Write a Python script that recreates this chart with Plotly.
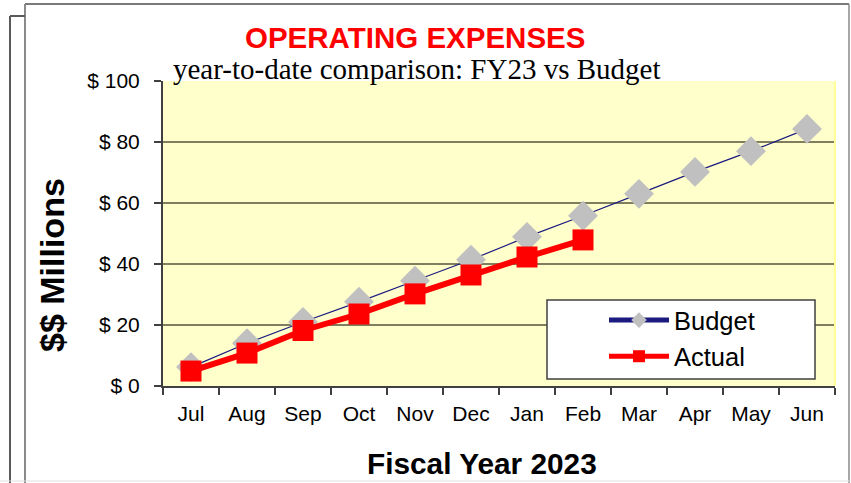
import plotly.graph_objects as go

months = ["Jul", "Aug", "Sep", "Oct", "Nov", "Dec", "Jan", "Feb", "Mar", "Apr", "May", "Jun"]
budget = [6.2, 14.0, 21.0, 27.6, 34.5, 41.4, 48.9, 55.8, 63.0, 70.2, 77.0, 84.3]
actual = [4.9, 10.8, 18.2, 23.6, 30.2, 36.4, 42.3, 47.9]
y_ticks = [0, 20, 40, 60, 80, 100]
y_tick_labels = ["$ 0", "$ 20", "$ 40", "$ 60", "$ 80", "$ 100"]

W, H = 851, 483
L, R, T, B = 163, 835, 81, 386


def px(x):
    return (x - L) / (R - L)


def py(y):
    return (B - y) / (B - T)


SANS = "Liberation Sans, Arial, sans-serif"
SERIF = "Liberation Serif, Times New Roman, serif"

fig = go.Figure()
fig.add_trace(go.Scatter(
    x=months, y=budget, name="Budget", mode="lines+markers",
    line=dict(color="#1a1a80", width=1.2),
    marker=dict(symbol="diamond", size=23, color="#c0c0c0"),
))
fig.add_trace(go.Scatter(
    x=months[:len(actual)], y=actual, name="Actual", mode="lines+markers",
    line=dict(color="#ff0000", width=6),
    marker=dict(symbol="square", size=21, color="#ff0000"),
))

shapes = []
frame_col = "#7a7a7a"
shapes.append(dict(type="line", xref="paper", yref="paper", x0=px(25), y0=py(4), x1=px(849), y1=py(4),
                   line=dict(color=frame_col, width=2)))
shapes.append(dict(type="line", xref="paper", yref="paper", x0=px(25), y0=py(4), x1=px(25), y1=py(483),
                   line=dict(color="#8a8a8a", width=2)))
shapes.append(dict(type="line", xref="paper", yref="paper", x0=px(849), y0=py(4), x1=px(849), y1=py(483),
                   line=dict(color="#8a8a8a", width=1.5)))
shapes.append(dict(type="line", xref="paper", yref="paper", x0=px(10), y0=py(16), x1=px(10), y1=py(483),
                   line=dict(color="#5a5a5a", width=2)))
shapes.append(dict(type="line", xref="paper", yref="paper", x0=px(10), y0=py(16), x1=px(25), y1=py(16),
                   line=dict(color="#5a5a5a", width=2)))
shapes.append(dict(type="line", xref="paper", yref="paper", x0=px(0), y0=py(481), x1=px(851), y1=py(481),
                   line=dict(color="#e0e0e0", width=1)))
shapes.append(dict(type="line", xref="paper", yref="paper", x0=1, y0=0, x1=1, y1=1,
                   line=dict(color="#ffff99", width=2)))
shapes.append(dict(type="rect", xref="paper", yref="paper", x0=px(547), y0=py(300), x1=px(815), y1=py(379),
                   fillcolor="white", line=dict(color="#404040", width=1.5), layer="above"))

annotations = [
    dict(text="<b>OPERATING EXPENSES</b>", xref="paper", yref="paper", x=px(415), y=py(37),
         xanchor="center", yanchor="middle", showarrow=False,
         font=dict(family=SANS, size=29.5, color="#ff0000")),
    dict(text="year-to-date comparison: FY23 vs Budget", xref="paper", yref="paper", x=px(171), y=py(69),
         xanchor="left", yanchor="middle", showarrow=False,
         font=dict(family=SERIF, size=29, color="#000000")),
    dict(text="<b>Fiscal Year 2023</b>", xref="paper", yref="paper", x=px(482), y=py(463),
         xanchor="center", yanchor="middle", showarrow=False,
         font=dict(family=SANS, size=29.8, color="#000000")),
    dict(text="<b>$$ Millions</b>", xref="paper", yref="paper", x=px(52), y=py(265),
         xanchor="center", yanchor="middle", showarrow=False, textangle=-90,
         font=dict(family=SANS, size=34, color="#000000")),
]

fig.update_layout(
    width=W, height=H,
    margin=dict(l=L, r=W - R, t=T, b=H - B),
    paper_bgcolor="white",
    plot_bgcolor="#ffffcc",
    shapes=shapes,
    annotations=annotations,
    showlegend=True,
    legend=dict(x=px(604), y=py(297), xanchor="left", yanchor="top",
                bgcolor="rgba(0,0,0,0)", borderwidth=0, itemsizing="constant", itemwidth=60,
                font=dict(family=SANS, size=25.5, color="#000000"), tracegroupgap=0),
    xaxis=dict(
        type="category", range=[-0.5, 11.5], tickson="boundaries",
        ticks="outside", ticklen=7, tickwidth=2, tickcolor="#404040",
        showline=True, linecolor="#404040", linewidth=2,
        showgrid=False, zeroline=False,
        tickfont=dict(family=SANS, size=21, color="#000000"),
        ticklabelstandoff=8,
    ),
    yaxis=dict(
        range=[0, 100], tickmode="array", tickvals=y_ticks, ticktext=y_tick_labels,
        ticks="outside", ticklen=7, tickwidth=2, tickcolor="#404040",
        showline=True, linecolor="#404040", linewidth=2,
        showgrid=True, gridcolor="#7f7f60", gridwidth=2, zeroline=False,
        tickfont=dict(family=SANS, size=21, color="#000000"),
        ticklabelstandoff=10,
    ),
)

fig.write_html("out.html", config={"displayModeBar": False},
               post_script="document.body.style.margin='0';document.body.style.overflow='hidden';")
